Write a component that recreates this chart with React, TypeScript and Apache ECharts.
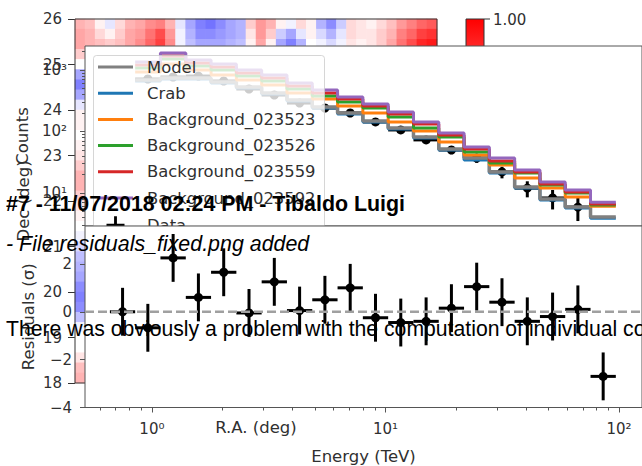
import React, { useEffect, useRef } from 'react';
import * as echarts from 'echarts';

// ---------------- data ----------------
const energyEdges = [0.661, 0.848, 1.088, 1.397, 1.792, 2.300, 2.951, 3.787, 4.860, 6.236, 8.002, 10.27, 13.18, 16.91, 21.70, 27.84, 35.73, 45.85, 58.83, 75.50, 96.88];
const energyCenters = [0.749, 0.961, 1.233, 1.582, 2.030, 2.605, 3.343, 4.290, 5.505, 7.064, 9.065, 11.63, 14.93, 19.16, 24.58, 31.54, 40.48, 51.94, 66.65, 85.52];

// counts panel (bins 1..19)
const modelCounts = [688, 741, 741, 638, 529, 423, 325, 250, 200, 148, 114, 81.4, 51.9, 37.1, 21.9, 12.5, 8.0, 5.9, 4.07];
const crabCounts = [662, 714, 714, 615, 510, 407, 313, 241, 193, 143, 110, 78.4, 50.0, 34.4, 21.1, 12.1, 7.7, 5.7, 3.9];
const bkg023523 = [928, 1252, 1000, 829, 688, 570, 423, 338, 260, 200, 143, 102, 67.5, 41.5, 28.5, 17.5, 12.1, 8.6, 6.1];
const bkg023526 = [1078, 1510, 1161, 1000, 799, 662, 491, 378, 302, 241, 172, 114, 81.4, 46.4, 30.7, 21.1, 13.5, 10, 6.4];
const bkg023559 = [1206, 1689, 1299, 1119, 894, 741, 549, 423, 338, 260, 193, 132, 87.7, 51.9, 33.1, 21.9, 14.0, 10.4, 6.6];
const bkg023592 = [1349, 1890, 1454, 1252, 1000, 829, 615, 473, 364, 280, 208, 143, 94.5, 56.0, 37.1, 23.7, 15.1, 11.2, 7.1];
const dataCounts = [714, 770, 798, 662, 491, 392, 290, 241, 200, 143, 106, 73, 50, 37, 22, 12, 8.3, 5.9, null];
const dataErr = [26.7, 27.7, 28.2, 25.7, 22.2, 19.8, 17.0, 15.5, 14.1, 12.0, 10.3, 8.5, 7.1, 6.1, 4.7, 3.5, 2.9, 2.4, null];

// residual panel (bins 0..19)
const residuals = [0.0, -0.67, 2.25, 0.6, 1.65, -0.05, 1.25, 0.05, 0.5, 1.0, -0.25, -0.45, -0.4, 0.15, 1.05, 0.4, -0.4, -0.2, 0.1, -2.7];
const residualErr = [1, 1, 1, 1, 1, 1, 1, 1, 1, 1, 1, 1, 1, 1, 1, 1, 1, 1, 1, 1];

// tick values
const majorEnergyTicks = [1, 10, 100];
const minorEnergyTicks = [0.6, 0.7, 0.8, 0.9, 2, 3, 4, 5, 6, 7, 8, 9, 20, 30, 40, 50, 60, 70, 80, 90];
const majorCountTicks = [10, 100, 1000];
const minorCountTicks = [3, 4, 5, 6, 7, 8, 9, 20, 30, 40, 50, 60, 70, 80, 90, 200, 300, 400, 500, 600, 700, 800, 900, 2000];
const residualTicks = [-4, -2, 0, 2];

// background sky map (Dec vs R.A.), visible strips only
const heatTopRow1 = [0.3, 0.25, 0.05, -0.1, 0.15, 0.3, 0.35, 0.45, 0.5, 0.3, -0.1, -0.35, -0.5, -0.55, -0.45, -0.35, -0.3, 0.2, 0.4, 0.3, 0.05, -0.05, 0.15, 0.05, -0.3, -0.45, -0.2, 0.15, 0.1, 0.05, 0.15, 0.25, 0.4, 0.5, 0.6, 0.65];
const heatTopRow2 = [0.35, 0.3, 0.15, 0.05, 0.2, 0.35, 0.4, 0.55, 0.7, 0.4, -0.05, -0.3, -0.45, -0.45, -0.4, -0.35, -0.3, 0.1, 0.4, 0.2, -0.2, -0.35, -0.1, 0.05, -0.15, -0.3, -0.1, 0.15, 0.1, 0.1, 0.2, 0.3, 0.5, 0.6, 0.75, 0.8];
const heatTopRow3 = [0.35, 0.3, 0.25, 0.2, 0.25, 0.35, 0.45, 0.6, 0.75, 0.45, -0.05, -0.25, -0.35, -0.35, -0.35, -0.3, -0.25, 0.05, 0.35, 0.05, -0.35, -0.5, -0.3, 0.0, -0.05, -0.15, -0.05, 0.1, 0.05, 0.1, 0.2, 0.35, 0.55, 0.7, 0.85, 0.9];
const heatLeftColumn = [0.3, 0.35, 0.35, 0.2, 0.0, -0.35, -0.5, -0.35, -0.1, 0.05, 0.05, 0.0, 0.05, 0.1, 0.2, 0.3, 0.3, 0.2, 0.1, 0.05, 0.0, -0.05, -0.15, -0.25, -0.3, -0.35, -0.45, -0.5, -0.45, -0.25, -0.05, 0.0, 0.0, 0.1, 0.25, 0.3];

// axis limits
const X_MIN = 0.5172;
const X_MAX = 125.4;
const Y_MIN = 2.906;
const Y_MAX = 2456;
const R_MIN = -4;
const R_MAX = 3.583;

// ---------------- styling ----------------
const FONT = "'DejaVu Sans', sans-serif";
const PAGE_FONT = "'Liberation Sans', Arial, sans-serif";
const TXT = '#303030';
const FRAME = '#555555';

const SUP: Record<string, string> = { '0': '⁰', '1': '¹', '2': '²', '3': '³', '4': '⁴', '5': '⁵', '6': '⁶', '7': '⁷', '8': '⁸', '9': '⁹', '-': '⁻' };
const pow10 = (v: number) => {
  const e = Math.log10(v);
  if (Math.abs(e - Math.round(e)) > 1e-6) return '';
  return '10' + String(Math.round(e)).split('').map((c) => SUP[c]).join('');
};
const minusFmt = (v: number) => (v < 0 ? '\u2212' + Math.abs(v) : String(v));

const labelBase = { fontFamily: FONT, fontSize: 15, color: TXT };
const nameStyle = { fontFamily: FONT, fontSize: 16.5, color: TXT };
const BAR = 'path://M0,0H35V3H0Z';
const CROSS = 'path://M16,0H19V8H27V11H19V19H16V11H8V8H16Z';

const errBar = (r: number, lw: number) => (_p: any, api: any) => {
  const y = api.value(3);
  const pl = api.coord([api.value(0), y]);
  const ph = api.coord([api.value(1), y]);
  const pc = api.coord([api.value(2), y]);
  const plo = api.coord([api.value(2), api.value(4)]);
  const phi = api.coord([api.value(2), api.value(5)]);
  const st = { stroke: '#000', lineWidth: lw };
  return {
    type: 'group',
    children: [
      { type: 'line', shape: { x1: pl[0], y1: pl[1], x2: ph[0], y2: ph[1] }, style: st },
      { type: 'line', shape: { x1: pc[0], y1: plo[1], x2: pc[0], y2: phi[1] }, style: st },
      { type: 'circle', shape: { cx: pc[0], cy: pc[1], r }, style: { fill: '#000' } },
    ],
  };
};

function buildOption() {
  const heatCols = heatTopRow1.map((_, i) => String(i));
  const heatRows = heatLeftColumn.map((_, i) => String(i));
  const topRows = [heatTopRow1, heatTopRow2, heatTopRow3];
  const heatCells: number[][] = [];
  topRows.forEach((row, t) => row.forEach((v, c) => heatCells.push([c, t, v])));
  heatLeftColumn.forEach((v, t) => {
    if (t >= topRows.length) heatCells.push([0, t, v]);
  });

  const steps = (vals: number[]) =>
    vals.map((v, i) => [energyEdges[i + 1], v]).concat([[energyEdges[vals.length + 1], vals[vals.length - 1]]]);

  const stepSeries = (name: string, vals: number[], color: string, width: number) => ({
    type: 'line',
    name,
    xAxisIndex: 2,
    yAxisIndex: 2,
    step: 'end',
    data: steps(vals),
    symbol: 'none',
    showSymbol: false,
    color,
    itemStyle: { color },
    lineStyle: { color, width },
    zlevel: 0,
    z: 11,
    silent: true,
    emphasis: { disabled: true },
  });

  const dataPoints: number[][] = [];
  dataCounts.forEach((c, i) => {
    if (c == null) return;
    const e = dataErr[i] as number;
    dataPoints.push([energyEdges[i + 1], energyEdges[i + 2], energyCenters[i + 1], c, c - e, c + e]);
  });
  const residualPoints = residuals.map((r, i) => [
    energyEdges[i], energyEdges[i + 1], energyCenters[i], r, r - residualErr[i], r + residualErr[i],
  ]);

  const off = { show: false, onZero: false };

  return {
    animation: false,
    backgroundColor: '#ffffff',
    grid: [
      { left: 75, top: 19, width: 362, height: 364, show: true, backgroundColor: 'transparent', borderColor: '#333', borderWidth: 1, zlevel: 0, z: 3 },
      { left: 85, top: 46, width: 558, height: 180, show: true, backgroundColor: '#ffffff', borderColor: FRAME, borderWidth: 1, zlevel: 0, z: 10 },
      { left: 85, top: 226, width: 558, height: 182, show: true, backgroundColor: '#ffffff', borderColor: FRAME, borderWidth: 1, zlevel: 2, z: 0 },
    ],
    visualMap: {
      show: false,
      type: 'continuous',
      min: -1,
      max: 1,
      seriesIndex: 0,
      dimension: 2,
      inRange: { color: ['#0000ff', '#ffffff', '#ff0000'] },
    },
    xAxis: [
      { gridIndex: 0, type: 'category', data: heatCols, show: false },
      {
        gridIndex: 0, type: 'value', min: 0, max: 1, position: 'bottom',
        axisLine: off, axisTick: { show: false }, axisLabel: { show: false }, splitLine: { show: false },
        name: 'R.A. (deg)', nameLocation: 'middle', nameGap: 35.5, nameTextStyle: nameStyle, z: 1,
      },
      { gridIndex: 1, type: 'log', min: X_MIN, max: X_MAX, show: false, axisLine: off },
      {
        gridIndex: 2, type: 'log', min: X_MIN, max: X_MAX, position: 'bottom',
        axisLine: off,
        axisTick: { show: true, customValues: majorEnergyTicks, length: 5, lineStyle: { color: FRAME } },
        axisLabel: { ...labelBase, customValues: majorEnergyTicks, formatter: pow10, margin: 14 },
        splitLine: { show: false },
        name: 'Energy (TeV)', nameLocation: 'middle', nameGap: 40.5, nameTextStyle: nameStyle, zlevel: 2, z: 1,
      },
      {
        gridIndex: 2, type: 'log', min: X_MIN, max: X_MAX, position: 'bottom',
        axisLine: off,
        axisTick: { show: true, customValues: minorEnergyTicks, length: 3, lineStyle: { color: FRAME } },
        axisLabel: { show: false }, splitLine: { show: false }, zlevel: 2, z: 1,
      },
    ],
    yAxis: [
      { gridIndex: 0, type: 'category', data: heatRows, inverse: true, show: false },
      {
        gridIndex: 0, type: 'value', min: 18, max: 26, interval: 1, position: 'left',
        axisLine: off,
        axisTick: { show: true, length: 7, lineStyle: { color: '#333' } },
        axisLabel: { ...labelBase, margin: 13 },
        splitLine: { show: false },
        name: 'Dec (deg)', nameLocation: 'middle', nameRotate: 90, nameGap: 38, nameTextStyle: nameStyle, z: 1,
      },
      {
        gridIndex: 1, type: 'log', min: Y_MIN, max: Y_MAX, position: 'left',
        axisLine: off,
        axisTick: { show: true, customValues: majorCountTicks, length: 5, lineStyle: { color: FRAME } },
        axisLabel: { ...labelBase, customValues: majorCountTicks, formatter: pow10, margin: 18 },
        splitLine: { show: false },
        name: 'Counts', nameLocation: 'middle', nameRotate: 90, nameGap: 39, nameTextStyle: nameStyle, z: 11,
      },
      {
        gridIndex: 1, type: 'log', min: Y_MIN, max: Y_MAX, position: 'left',
        axisLine: off,
        axisTick: { show: true, customValues: minorCountTicks, length: 3, lineStyle: { color: FRAME } },
        axisLabel: { show: false }, splitLine: { show: false }, z: 11,
      },
      {
        gridIndex: 2, type: 'value', min: R_MIN, max: R_MAX, position: 'left',
        axisLine: off,
        axisTick: { show: true, customValues: residualTicks, length: 5, lineStyle: { color: FRAME } },
        axisLabel: { ...labelBase, customValues: residualTicks, formatter: minusFmt, margin: 13 },
        splitLine: { show: false },
        name: 'Residuals (σ)', nameLocation: 'middle', nameRotate: 90, nameGap: 48, nameTextStyle: nameStyle, zlevel: 2, z: 1,
      },
    ],
    legend: {
      zlevel: 1,
      z: 2,
      orient: 'vertical',
      left: 93,
      top: 56,
      padding: [3, 9, 3, 5],
      itemWidth: 35,
      itemHeight: 18,
      itemGap: 10.2,
      backgroundColor: 'transparent',
      borderWidth: 0,
      selectedMode: false,
      textStyle: { fontFamily: FONT, fontSize: 16.4, color: TXT, padding: [0, 0, 0, 9] },
      data: [
        { name: 'Model', icon: BAR },
        { name: 'Crab', icon: BAR },
        { name: 'Background_023523', icon: BAR },
        { name: 'Background_023526', icon: BAR },
        { name: 'Background_023559', icon: BAR },
        { name: 'Background_023592', icon: BAR },
        { name: 'Data', icon: CROSS },
      ],
    },
    series: [
      {
        type: 'heatmap', xAxisIndex: 0, yAxisIndex: 0, data: heatCells, zlevel: 0, z: 2,
        silent: true, emphasis: { disabled: true }, progressive: 0,
      },
      stepSeries('Crab', crabCounts, '#1f77b4', 3),
      stepSeries('Model', modelCounts, '#808080', 3.5),
      stepSeries('Background_023523', bkg023523, '#ff7f0e', 3),
      stepSeries('Background_023526', bkg023526, '#2ca02c', 3),
      stepSeries('Background_023559', bkg023559, '#d62728', 3),
      stepSeries('Background_023592', bkg023592, '#9467bd', 3),
      {
        type: 'custom', name: 'Data', xAxisIndex: 2, yAxisIndex: 2, data: dataPoints,
        renderItem: errBar(4.5, 3), encode: { x: [0, 1, 2], y: [3, 4, 5] },
        itemStyle: { color: '#000' }, zlevel: 0, z: 11, silent: true,
      },
      {
        type: 'line', name: 'zero', xAxisIndex: 3, yAxisIndex: 4,
        data: [[X_MIN, 0], [X_MAX, 0]], symbol: 'none', showSymbol: false,
        lineStyle: { color: '#a0a0a0', width: 2.5, type: [9, 4] }, zlevel: 2, z: 2, silent: true,
      },
      {
        type: 'custom', name: 'Residuals', xAxisIndex: 3, yAxisIndex: 4, data: residualPoints,
        renderItem: errBar(4.5, 3), encode: { x: [0, 1, 2], y: [3, 4, 5] },
        itemStyle: { color: '#000' }, zlevel: 2, z: 2, silent: true,
      },
    ],
    graphic: [
      {
        type: 'rect', zlevel: 0, z: 2, silent: true,
        shape: { x: 466, y: 19, width: 18, height: 364 },
        style: {
          fill: {
            type: 'linear', x: 0, y: 0, x2: 0, y2: 1,
            colorStops: [
              { offset: 0, color: '#ff0000' },
              { offset: 0.5, color: '#ffffff' },
              { offset: 1, color: '#0000ff' },
            ],
          },
          stroke: '#333', lineWidth: 1,
        },
      },
      { type: 'line', zlevel: 0, z: 2, silent: true, shape: { x1: 484, y1: 19, x2: 490, y2: 19 }, style: { stroke: '#333', lineWidth: 1 } },
      {
        type: 'text', zlevel: 0, z: 2, x: 493, y: 20, silent: true,
        style: { text: '1.00', fontFamily: FONT, fontSize: 15, fill: TXT, verticalAlign: 'middle' },
      },
      // translucent legend frame (matplotlib framealpha 0.8)
      {
        type: 'rect', zlevel: 1, z: 1, silent: true,
        shape: { x: 93.5, y: 55.5, width: 231, height: 190, r: 3 },
        style: { fill: '#ffffff', opacity: 0.8, stroke: '#cccccc', lineWidth: 1 },
      },
      {
        type: 'text', zlevel: 3, z: 1, x: 6, y: 204, silent: true,
        style: { text: '#7 - 11/07/2018 02:24 PM - Tibaldo Luigi', fontFamily: PAGE_FONT, fontWeight: 'bold', fontSize: 21.4, fill: '#000', verticalAlign: 'middle' },
      },
      {
        type: 'text', zlevel: 3, z: 1, x: 6, y: 244, silent: true,
        style: { text: '- File residuals_fixed.png added', fontFamily: PAGE_FONT, fontStyle: 'italic', fontSize: 21.4, fill: '#000', verticalAlign: 'middle' },
      },
      {
        type: 'text', zlevel: 3, z: 1, x: 6, y: 328, silent: true,
        style: { text: 'There was obviously a problem with the computation of individual co', fontFamily: PAGE_FONT, fontSize: 21.2, fill: '#000', verticalAlign: 'middle' },
      },
    ],
  };
}

export default function App() {
  const ref = useRef<HTMLDivElement>(null);
  useEffect(() => {
    if (!ref.current) return;
    const chart = echarts.init(ref.current, undefined, { renderer: 'svg' });
    chart.setOption(buildOption() as any);
    return () => chart.dispose();
  }, []);
  return <div ref={ref} style={{ position: 'fixed', left: 0, top: 0, width: 642, height: 466 }} />;
}
